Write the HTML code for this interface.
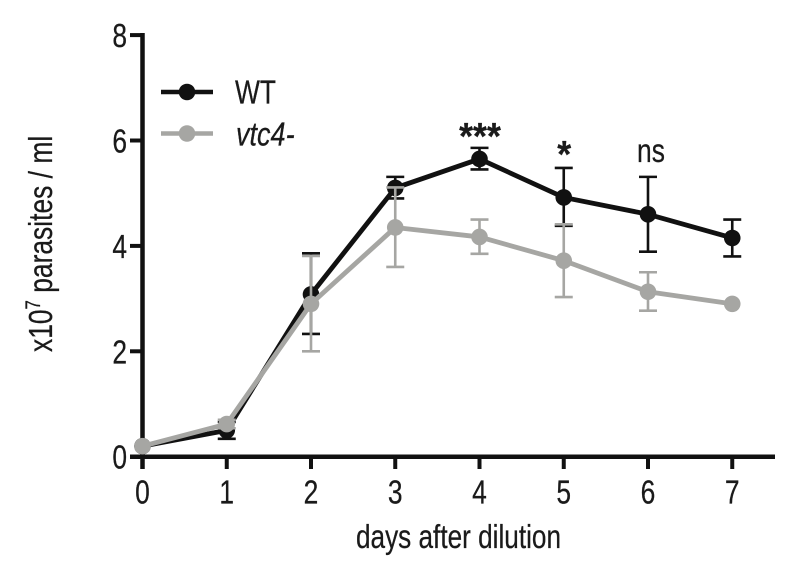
<!DOCTYPE html>
<html>
<head>
<meta charset="utf-8">
<style>
html,body{margin:0;padding:0;background:#fff;width:800px;height:568px;overflow:hidden}
svg{display:block}
text{font-family:"Liberation Sans",Arial,sans-serif;fill:#1a1a1a;stroke:#1a1a1a;stroke-width:0.25px}
</style>
</head>
<body>
<svg id="chart" width="800" height="568" viewBox="0 0 800 568" xmlns="http://www.w3.org/2000/svg"></svg>
<script>
const days = [0, 1, 2, 3, 4, 5, 6, 7];
const yTicks = [0, 2, 4, 6, 8];
const wtValues = [0.2, 0.5, 3.08, 5.1, 5.65, 4.92, 4.6, 4.15];
const wtUpper = [0.2, 0.66, 3.86, 5.31, 5.86, 5.48, 5.31, 4.5];
const wtLower = [0.2, 0.34, 2.33, 4.9, 5.45, 4.38, 3.89, 3.8];
const vtcValues = [0.2, 0.62, 2.9, 4.35, 4.17, 3.72, 3.13, 2.9];
const vtcUpper = [0.2, 0.7, 3.81, 5.11, 4.5, 4.41, 3.5, 2.9];
const vtcLower = [0.2, 0.54, 2.0, 3.6, 3.85, 3.03, 2.77, 2.9];
const sigLabels = ['', '', '', '', '***', '*', 'ns', ''];

const NS = 'http://www.w3.org/2000/svg';
const svg = document.getElementById('chart');
const BLACK = '#111111';
const GRAY = '#a6a6a3';
const xScale = d => 142.5 + d * 84.25;
const yScale = v => 456.7 - v * 52.7;

function mk(tag, attrs, parent) {
  const el = document.createElementNS(NS, tag);
  for (const k in attrs) el.setAttribute(k, attrs[k]);
  (parent || svg).appendChild(el);
  return el;
}
function label(str, x, y, size, sx, anchor, parent) {
  const t = mk('text', {
    transform: 'translate(' + x + ',' + y + ') scale(' + sx + ',1)',
    'font-size': size,
    'text-anchor': anchor
  }, parent);
  t.textContent = str;
  return t;
}

/* axes */
const yAxis = mk('line', {x1: xScale(0), x2: xScale(0), y1: 33, y2: 469, stroke: BLACK, 'stroke-width': 4.5});


const xAxis = mk('line', {x1: 130, x2: 775, y1: yScale(0), y2: yScale(0), stroke: BLACK, 'stroke-width': 4.5});



yTicks.forEach(v => {
  const tick = mk('line', {x1: 130, x2: xScale(0), y1: yScale(v), y2: yScale(v), stroke: BLACK, 'stroke-width': 4});
  
  
  const lab = label(String(v), 127, yScale(v) + 12, 33, 0.8, 'end');
  
  
});
days.forEach(d => {
  const tick = mk('line', {x1: xScale(d), x2: xScale(d), y1: yScale(0), y2: 469, stroke: BLACK, 'stroke-width': 4});
  
  
  const lab = label(String(d), xScale(d), 503.5, 33, 0.8, 'middle');
  
  
});

/* series */
function drawSeries(name, values, upper, lower, color) {
  const g = mk('g', {});
  
  
  days.forEach((d, i) => {
    if (upper[i] === lower[i]) return;
    const x = xScale(d);
    const eb = mk('path', {
      d: 'M' + x + ' ' + yScale(upper[i]) + 'V' + yScale(lower[i]) +
         'M' + (x - 9) + ' ' + yScale(upper[i]) + 'h18' +
         'M' + (x - 9) + ' ' + yScale(lower[i]) + 'h18',
      stroke: color, 'stroke-width': 2.6, fill: 'none'
    }, g);
    
    
  });
  const pts = days.map((d, i) => xScale(d) + ',' + yScale(values[i])).join(' ');
  const line = mk('polyline', {points: pts, fill: 'none', stroke: color, 'stroke-width': 4.8, 'stroke-linejoin': 'round'}, g);
  
  
  days.forEach((d, i) => {
    const c = mk('circle', {cx: xScale(d), cy: yScale(values[i]), r: 8.3, fill: color}, g);
    
    
  });
}
drawSeries('wt', wtValues, wtUpper, wtLower, BLACK);
drawSeries('vtc4', vtcValues, vtcUpper, vtcLower, GRAY);

/* significance labels */
days.forEach((d, i) => {
  const s = sigLabels[i];
  if (!s) return;
  let lab;
  if (s === 'ns') {
    lab = label(s, xScale(d) + 3, 162, 33, 0.8, 'middle');
  } else {
    lab = label(s, xScale(d) + 0.5, yScale(wtUpper[i]) + (s === '*' ? -1 : 1), 38, 0.94, 'middle');
    lab.setAttribute('font-weight', 'bold');
  }
  
  
});

/* legend */
const legend = mk('g', {});


const lw = mk('line', {x1: 161, x2: 213, y1: 92, y2: 92, stroke: BLACK, 'stroke-width': 4.6}, legend);


const cw = mk('circle', {cx: 187, cy: 92, r: 8.3, fill: BLACK}, legend);


const lv = mk('line', {x1: 161, x2: 213, y1: 133.5, y2: 133.5, stroke: GRAY, 'stroke-width': 4.6}, legend);


const cv = mk('circle', {cx: 187, cy: 133.5, r: 8.3, fill: GRAY}, legend);


const tw = label('WT', 235, 103.5, 33, 0.8, 'start', legend);


const tv = label('vtc4-', 236, 145.5, 33, 0.82, 'start', legend);
tv.setAttribute('font-style', 'italic');



/* axis titles */
const xTitle = mk('text', {x: 356, y: 548, 'font-size': 33, textLength: 205, lengthAdjust: 'spacingAndGlyphs'});
xTitle.textContent = 'days after dilution';



const yTitle = mk('text', {transform: 'translate(52,352) rotate(-90) scale(0.8,1)', 'font-size': 33});


const p1 = mk('tspan', {}, yTitle);
p1.textContent = 'x10';
const p2 = mk('tspan', {'font-size': 21, dy: -12}, yTitle);
p2.textContent = '7';
const p3 = mk('tspan', {dy: 12}, yTitle);
p3.textContent = ' parasites / ml';
</script>
</body>
</html>
